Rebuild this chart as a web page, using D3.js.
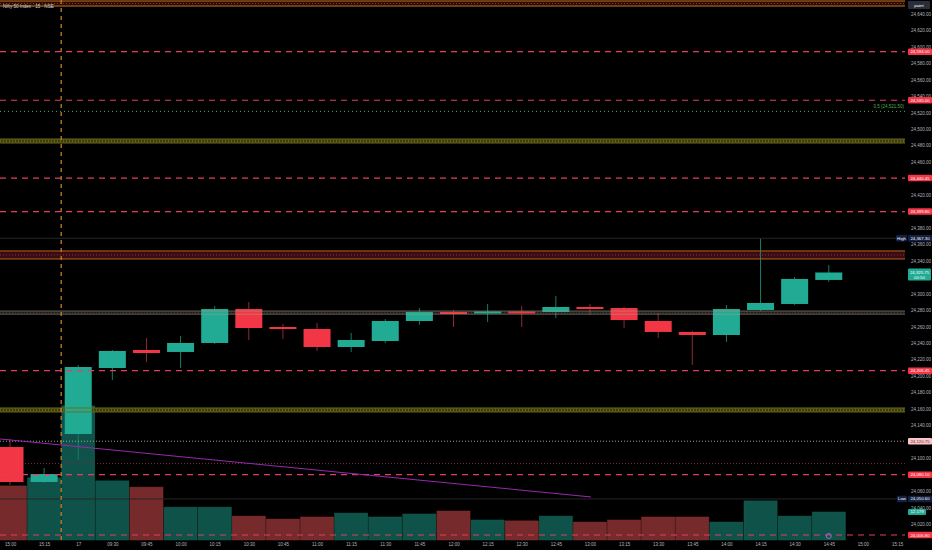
<!DOCTYPE html>
<html><head><meta charset="utf-8">
<script src="https://cdn.jsdelivr.net/npm/d3@7"></script>
<style>html,body{margin:0;background:#000;overflow:hidden}svg{display:block}</style>
</head><body><svg id="c" width="932" height="550"></svg>
<script>
// ---- data ----
const times  = ["15:00","15:15","09:15","09:30","09:45","10:00","10:15","10:30","10:45","11:00","11:15","11:30","11:45","12:00","12:15","12:30","12:45","13:00","13:15","13:30","13:45","14:00","14:15","14:30","14:45"];
const opens  = [24113.7,24071.2,24129.5,24209.7,24231.6,24229.2,24240.1,24281.4,24259.5,24257.1,24235.2,24242.5,24266.8,24277.8,24276.5,24277.8,24277.8,24283.8,24282.6,24266.8,24253.5,24249.8,24280.2,24287.5,24316.7];
const highs  = [24123.5,24088.2,24213.3,24231.6,24246.2,24248.6,24285.1,24289.9,24263.2,24264.4,24252.2,24269.2,24282.6,24280.2,24287.5,24285.1,24297.2,24287.5,24283.8,24276.5,24254.7,24286.3,24367.3,24320.3,24334.9];
const lows   = [24067.6,24070.0,24098.0,24195.1,24217.0,24209.7,24239.0,24243.7,24245.0,24230.4,24229.2,24240.1,24262.0,24259.5,24265.6,24259.5,24270.5,24274.1,24258.3,24246.2,24213.4,24241.3,24279.0,24286.3,24314.2];
const closes = [24071.2,24080.9,24210.9,24230.4,24227.9,24240.1,24281.4,24258.3,24257.1,24235.2,24243.7,24266.8,24277.8,24275.3,24277.8,24276.5,24283.8,24281.4,24268.0,24253.5,24249.8,24281.4,24288.7,24317.9,24325.75];
const volumes= [23.5,27.0,58.3,25.7,23.0,14.3,14.3,10.4,9.1,10.0,11.7,10.0,11.3,12.6,8.7,8.3,10.4,7.8,8.7,10.0,10.0,7.8,17.0,10.4,12.179];
const tickLabels = ["15:00","15:15","17","09:30","09:45","10:00","10:15","10:30","10:45","11:00","11:15","11:30","11:45","12:00","12:15","12:30","12:45","13:00","13:15","13:30","13:45","14:00","14:15","14:30","14:45","15:00","15:15"];
const priceTicks = [24020,24040,24060,24080,24100,24120,24140,24160,24180,24200,24220,24240,24260,24280,24300,24320,24340,24360,24380,24400,24420,24440,24460,24480,24500,24520,24540,24560,24580,24600,24620,24640];
const dashedLevels = [24594.00,24535.00,24440.45,24399.80,24206.45,24080.10,24006.80];
const zoneLow  = [24649.5,24483.1,24342.2,24275.1,24156.3];
const zoneHigh = [24655.6,24487.9,24351.9,24278.9,24161.1];
const zoneKind = ["orange","olive","maroon","grey","olive"];
const fibLevel = 24521.50;
const whiteDotted = 24120.75;
const redDotted = 24093.7;
const highLevel = 24367.30, lowLevel = 24050.60;
const lastPrice = 24325.75;
const lastVolume = 12.179;
const trendIdx = [-0.3, 17.03];
const trendPrice = [24123.5, 24053.0];
const sessionBreak = 1.5;

// ---- scales ----
const svg = d3.select("#c");
const W = 932, H = 550, plotR = 905;
const x = d3.scaleLinear().domain([0,26]).range([10,897]);
const y = d3.scaleLinear().domain([24006.8,24594]).range([535,51.7]);
const yv = d3.scaleLinear().domain([0,60]).range([540,402]);
const slot = x(1)-x(0);
const UP="#22ab94", DN="#f23645", FONT="'Liberation Sans',Arial,sans-serif";

svg.append("rect").attr("width",W).attr("height",H).attr("fill","#000");
const plot = svg.append("g");
svg.append("clipPath").attr("id","pc").append("rect").attr("x",0).attr("y",0).attr("width",plotR).attr("height",541);
plot.attr("clip-path","url(#pc)");

const candles = times.map((t,i)=>({i,t,o:opens[i],h:highs[i],l:lows[i],c:closes[i],v:volumes[i]}));

// volume
plot.selectAll("rect.vol").data(candles).join("rect").attr("class","vol")
  .attr("x",d=>x(d.i)-slot/2+0.5).attr("width",slot-1)
  .attr("y",d=>yv(d.v)).attr("height",d=>yv(0)-yv(d.v))
  .attr("fill",d=>d.c>=d.o?"#0f5249":"#772a2b")
  .attr("stroke",d=>d.c>=d.o?"#14604f":"#85302f").attr("stroke-width",0.5);

// zones (behind candles except borders)
const zc = {orange:{s:"#c8741e",f:"#2a0c06",d:"#8a3a20",o:1},olive:{s:"#6f6f1c",f:"#3c3c0c",d:"#8a8a30",o:1},maroon:{s:"#b8661e",f:"#3a0c12",d:"#8a3848",o:1},grey:{s:"#a39a84",f:"#1e1c1a",d:"#3a3835",o:0.75}};
const zoneG = plot.append("g");
const candleG = plot.append("g");
const overG = plot.append("g");
zoneLow.forEach((lo,k)=>{
  const c = zc[zoneKind[k]], y1=y(zoneHigh[k]), y2=y(lo);
  zoneG.append("rect").attr("x",0).attr("width",plotR).attr("y",y1).attr("height",y2-y1).attr("fill",c.f);
  zoneG.append("line").attr("x1",0).attr("x2",plotR).attr("y1",(y1+y2)/2).attr("y2",(y1+y2)/2).attr("stroke",c.d).attr("stroke-width",1).attr("stroke-dasharray","1,2");
  [y1,y2].forEach(yy=>overG.append("line").attr("x1",0).attr("x2",plotR).attr("y1",yy).attr("y2",yy).attr("stroke",c.s).attr("stroke-width",zoneKind[k]==="grey"?0.8:1).attr("stroke-opacity",c.o));
});

// candles
candleG.selectAll("line").data(candles).join("line")
  .attr("x1",d=>x(d.i)).attr("x2",d=>x(d.i))
  .attr("y1",d=>y(d.h)).attr("y2",d=>y(d.l))
  .attr("stroke",d=>d.c>=d.o?"#167a6a":"#8e2a33").attr("stroke-width",1);
candleG.selectAll("rect").data(candles).join("rect")
  .attr("x",d=>x(d.i)-13.5).attr("width",27)
  .attr("y",d=>{const h=Math.abs(y(d.o)-y(d.c));return h<2?Math.min(y(d.o),y(d.c))-(2-h)/2:y(Math.max(d.o,d.c));})
  .attr("height",d=>Math.max(2,Math.abs(y(d.o)-y(d.c))))
  .attr("fill",d=>d.c>=d.o?UP:DN);

// faint high/low lines
[highLevel,lowLevel].forEach(v=>overG.append("line").attr("x1",0).attr("x2",plotR).attr("y1",y(v)).attr("y2",y(v)).attr("stroke","#262626").attr("stroke-width",1));

// dashed levels
dashedLevels.forEach(v=>overG.append("line").attr("x1",0).attr("x2",plotR).attr("y1",y(v)).attr("y2",y(v))
  .attr("stroke","#e0405c").attr("stroke-width",1.2).attr("stroke-dasharray","6,5"));
// dotted levels
overG.append("line").attr("x1",0).attr("x2",plotR).attr("y1",y(fibLevel)).attr("y2",y(fibLevel)).attr("stroke","#4caf50").attr("stroke-width",1).attr("stroke-dasharray","1,3");
overG.append("line").attr("x1",0).attr("x2",plotR).attr("y1",y(whiteDotted)).attr("y2",y(whiteDotted)).attr("stroke","#a0a0a0").attr("stroke-width",1).attr("stroke-dasharray","1,2");
overG.append("line").attr("x1",25).attr("x2",plotR).attr("y1",y(redDotted)).attr("y2",y(redDotted)).attr("stroke","#7a2838").attr("stroke-width",1).attr("stroke-dasharray","1,2");

// session break
overG.append("line").attr("x1",x(sessionBreak)).attr("x2",x(sessionBreak)).attr("y1",0).attr("y2",541)
  .attr("stroke","#d9822b").attr("stroke-width",1.2).attr("stroke-dasharray","4,4");

// trend line
overG.append("line").attr("x1",x(trendIdx[0])).attr("y1",y(trendPrice[0])).attr("x2",x(trendIdx[1])).attr("y2",y(trendPrice[1]))
  .attr("stroke","#9c27b0").attr("stroke-width",1);

// icon
overG.append("circle").attr("cx",x(24)).attr("cy",536).attr("r",2.5).attr("fill","none").attr("stroke","#9c6ad0").attr("stroke-width",1);

// fib text
svg.append("text").attr("x",904).attr("y",y(fibLevel)-3).attr("text-anchor","end").attr("fill","#4caf50")
  .style("font",`4.5px ${FONT}`).text("0.5 (24,521.50)");

// title
svg.append("text").attr("x",3).attr("y",8).attr("fill","#d1d4dc").style("font",`4.6px ${FONT}`).text("Nifty 50 Index · 15 · NSE");

// price axis
const fmt = d3.format(",.2f");
const boxYs = [...dashedLevels,highLevel,lowLevel,whiteDotted].map(v=>y(v));
const shownTicks = priceTicks.filter(t=>{
  const ty=y(t);
  if (boxYs.some(b=>Math.abs(b-ty)<3.5)) return false;
  if (ty>y(lastPrice)-4 && ty<y(lastPrice)+8) return false;
  return true;
});
const ya = svg.append("g").attr("transform","translate(911,0)")
  .call(d3.axisRight(y).tickValues(shownTicks).tickFormat(fmt).tickSize(0).tickPadding(0));
ya.select(".domain").remove();
ya.selectAll("text").attr("fill","#b2b5be").style("font",`4.5px ${FONT}`);

// x axis
const xa = svg.append("g").attr("transform","translate(0,542)")
  .call(d3.axisBottom(x).tickValues(d3.range(tickLabels.length)).tickFormat(i=>tickLabels[i]).tickSize(0).tickPadding(1));
xa.select(".domain").remove();
xa.selectAll("text").attr("fill","#b2b5be").style("font",`4.5px ${FONT}`);

// label boxes
function box(cy,txt,bg,fg,x0=908,w=24,h=6.5){
  svg.append("rect").attr("x",x0).attr("y",cy-h/2).attr("width",w).attr("height",h).attr("rx",1).attr("fill",bg);
  svg.append("text").attr("x",x0+w/2).attr("y",cy).attr("dy","0.35em").attr("text-anchor","middle").attr("fill",fg)
    .style("font",`4.3px ${FONT}`).text(txt);
}
dashedLevels.forEach(v=>box(y(v),fmt(v),DN,"#fff"));
box(y(whiteDotted),fmt(whiteDotted),"#f6c6ca","#7a1a22");
box(y(highLevel),fmt(highLevel),"#132042","#fff");
box(y(highLevel),"High","#132042","#fff",896,11);
box(y(lowLevel),fmt(lowLevel),"#132042","#fff");
box(y(lowLevel),"Low","#132042","#fff",897,10);
box(yv(lastVolume),"12.179",UP,"#fff",908,18,6);
// last price two-line box
const ly = y(lastPrice);
svg.append("rect").attr("x",908).attr("y",ly-4).attr("width",23).attr("height",12).attr("rx",1).attr("fill",UP);
svg.append("text").attr("x",919.5).attr("y",ly).attr("dy","0.35em").attr("text-anchor","middle").attr("fill","#fff").style("font",`4.3px ${FONT}`).text(fmt(lastPrice));
svg.append("text").attr("x",919.5).attr("y",ly+5).attr("dy","0.35em").attr("text-anchor","middle").attr("fill","#fff").style("font",`4.3px ${FONT}`).text("00:50");
// top-right tag
box(5,"paint","#2a2e39","#fff",908,22,8);
</script>
</body></html>
